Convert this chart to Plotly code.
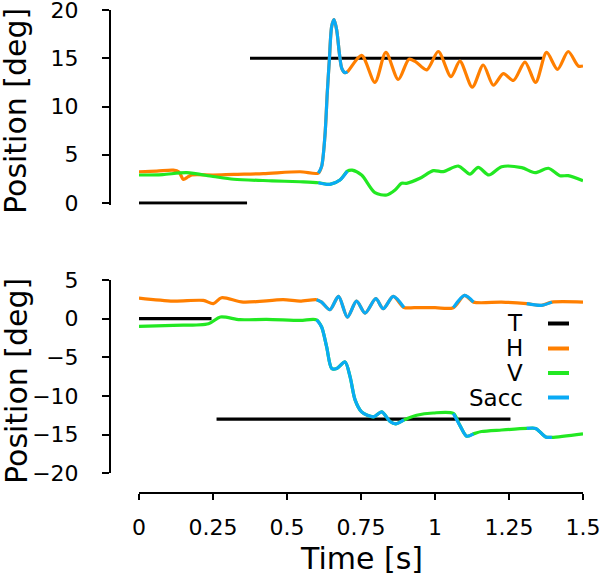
import numpy as np
import plotly.graph_objects as go

# ---------------- data ----------------
# Top panel
top_h_t = [0, 0.06, 0.116, 0.135, 0.15, 0.165, 0.178, 0.25, 0.32, 0.42, 0.544, 0.606, 0.617, 0.628,
           0.636, 0.643, 0.651, 0.659, 0.668, 0.677, 0.685, 0.696, 0.704, 0.752, 0.797, 0.834,
           0.876, 0.912, 0.934, 0.972, 1.011, 1.054, 1.084, 1.126, 1.163, 1.197, 1.231, 1.265,
           1.304, 1.340, 1.377, 1.414, 1.450, 1.484, 1.5]
top_h = [3.24, 3.3, 3.4, 3.2, 2.45, 2.7, 2.9, 2.9, 2.97, 3.05, 3.24, 3.1, 3.8, 6.9,
         11.4, 14.8, 18.3, 19.0, 17.9, 15.5, 13.96, 13.5, 13.6, 15.3, 12.5, 15.6,
         12.8, 14.9, 14.65, 13.8, 15.7, 13.1, 14.7, 12.0, 14.3, 12.2, 13.4, 12.7,
         14.6, 12.5, 15.6, 13.85, 15.7, 14.2, 14.2]

top_v_t = [0, 0.08, 0.161, 0.25, 0.32, 0.45, 0.544, 0.606, 0.645, 0.679, 0.704, 0.72, 0.752,
           0.797, 0.837, 0.865, 0.887, 0.904, 0.949, 0.994, 1.028, 1.079, 1.118, 1.146, 1.182,
           1.225, 1.293, 1.338, 1.383, 1.422, 1.45, 1.5]
top_v = [2.9, 2.95, 3.14, 2.75, 2.46, 2.3, 2.2, 2.1, 1.93, 2.38, 3.3, 3.4, 2.9,
         1.07, 0.83, 1.35, 2.04, 2.04, 2.56, 3.35, 3.25, 3.83, 3.0, 3.7, 2.9,
         3.76, 3.66, 3.14, 3.6, 2.83, 2.83, 2.3]

top_target_t = [0, 0.365, None, 0.375, 1.363]
top_target = [0, 0, None, 15, 15]
top_sacc = [(0.606, 0.704)]

# Bottom panel
bot_h_t = [0, 0.116, 0.217, 0.251, 0.279, 0.352, 0.487, 0.544, 0.60, 0.617, 0.645, 0.674,
           0.704, 0.735, 0.764, 0.80, 0.825, 0.859, 0.895, 0.93, 1.0, 1.062, 1.10, 1.13,
           1.225, 1.31, 1.36, 1.395, 1.5]
bot_h = [2.66, 2.27, 2.36, 1.94, 2.71, 2.14, 2.45, 2.27, 2.45, 2.14, 1.16, 2.88,
         0.21, 2.27, 0.72, 2.58, 1.29, 2.88, 1.45, 1.42, 1.42, 1.42, 3.0, 2.14,
         2.14, 1.94, 1.72, 2.14, 2.14]

bot_v_t = [0, 0.116, 0.235, 0.275, 0.341, 0.431, 0.544, 0.60, 0.617, 0.634, 0.651, 0.668,
           0.696, 0.713, 0.730, 0.752, 0.792, 0.82, 0.848, 0.868, 0.895, 0.938, 0.994,
           1.062, 1.084, 1.107, 1.13, 1.157, 1.225, 1.31, 1.34, 1.374, 1.395, 1.5]
bot_v = [-1.0, -0.86, -0.65, 0.21, -0.13, -0.09, -0.22, -0.15, -1.08, -3.66, -6.45, -6.45,
         -5.6, -7.5, -10.5, -12.05, -12.7, -12.05, -13.3, -13.6, -13.1, -12.5, -12.2,
         -12.26, -13.8, -15.2, -14.9, -14.6, -14.4, -14.2, -14.2, -15.3, -15.35, -14.9]

bot_target_t = [0, 0.245, None, 0.262, 1.255]
bot_target = [0, 0, None, -13, -13]
bot_sacc = [(0.60, 0.895), (1.062, 1.13), (1.31, 1.395)]

x_tickvals = [0, 0.25, 0.5, 0.75, 1, 1.25, 1.5]
x_ticktext = ["0", "0.25", "0.5", "0.75", "1", "1.25", "1.5"]
top_yticks = [0, 5, 10, 15, 20]
bot_yticks = [-20, -15, -10, -5, 0, 5]

legend_names = ["T", "H", "V", "Sacc"]

# ---------------- style ----------------
C_T, C_H, C_V, C_S = "#000000", "#FF7F00", "#22E822", "#0AAAF5"
FONT = "DejaVu Sans"
LW = 3.2
W, H = 600, 575

fig = go.Figure()


def sacc_parts(t, v, intervals):
    t = np.array(t, dtype=float)
    v = np.array(v, dtype=float)
    xs, ys = [], []
    for a, b in intervals:
        m = (t >= a - 1e-9) & (t <= b + 1e-9)
        xs += list(t[m]) + [None]
        ys += list(v[m]) + [None]
    return xs, ys


def add_panel(xa, ya, tt, tv, ht, hv, vt, vv, sacc):
    fig.add_trace(go.Scatter(x=tt, y=tv, mode="lines", line=dict(color=C_T, width=LW),
                             xaxis=xa, yaxis=ya, showlegend=False))
    fig.add_trace(go.Scatter(x=ht, y=hv, mode="lines",
                             line=dict(color=C_H, width=LW, shape="spline", smoothing=0.8),
                             xaxis=xa, yaxis=ya, showlegend=False))
    fig.add_trace(go.Scatter(x=vt, y=vv, mode="lines",
                             line=dict(color=C_V, width=LW, shape="spline", smoothing=0.8),
                             xaxis=xa, yaxis=ya, showlegend=False))
    for t, v in ((ht, hv), (vt, vv)):
        xs, ys = sacc_parts(t, v, sacc)
        fig.add_trace(go.Scatter(x=xs, y=ys, mode="lines",
                                 line=dict(color=C_S, width=LW, shape="spline", smoothing=0.8),
                                 xaxis=xa, yaxis=ya, showlegend=False, connectgaps=False))


add_panel("x2", "y2", top_target_t, top_target, top_h_t, top_h, top_v_t, top_v, top_sacc)
add_panel("x", "y", bot_target_t, bot_target, bot_h_t, bot_h, bot_v_t, bot_v, bot_sacc)

x_dom = [139 / W, 583 / W]
yax_pos = 110 / W
axis_common = dict(showgrid=False, zeroline=False, showline=True, linecolor="black",
                   linewidth=2, ticks="outside", tickwidth=2, tickcolor="black",
                   automargin=False, ticklabeloverflow="allow",
                   tickfont=dict(family=FONT, size=22, color="black"))

# top panel: tiny extension below 0 so the target line at 0 is not clipped
top_px_per_unit = (203 - 10) / 20.0
top_lo = -0.18

fig.update_layout(
    width=W, height=H, margin=dict(l=0, r=0, t=0, b=0, autoexpand=False),
    paper_bgcolor="white", plot_bgcolor="white", showlegend=False,
    font=dict(family=FONT, color="black"),
    xaxis=dict(domain=x_dom, range=[0, 1.5], anchor="free", position=(H - 493) / H,
               tickvals=x_tickvals, ticktext=x_ticktext, ticklen=6,
               ticklabelstandoff=9, **axis_common),
    yaxis=dict(domain=[(H - 473.3) / H, (H - 280) / H], range=[-20, 5], anchor="free",
               position=yax_pos, tickvals=bot_yticks, ticklen=7,
               ticklabelstandoff=19, **axis_common),
    xaxis2=dict(domain=x_dom, range=[0, 1.5], anchor="y2", visible=False, automargin=False),
    yaxis2=dict(domain=[(H - 203 + top_lo * top_px_per_unit) / H, (H - 10) / H],
                range=[top_lo, 20], anchor="free",
                position=yax_pos, tickvals=top_yticks, ticklen=7,
                ticklabelstandoff=19, **axis_common),
)

# axis titles
for yc in (111, 381):
    fig.add_annotation(text="Position [deg]", xref="paper", yref="paper", x=16 / W,
                       y=(H - yc) / H, textangle=-90, showarrow=False,
                       xanchor="center", yanchor="middle", borderpad=0,
                       font=dict(family=FONT, size=30, color="black"))
fig.add_annotation(text="Time [s]", xref="paper", yref="paper", x=361.5 / W,
                   y=(H - 558) / H, showarrow=False,
                   xanchor="center", yanchor="middle", borderpad=0,
                   font=dict(family=FONT, size=30, color="black"))

# legend (text on left, line sample on right)
leg_colors = [C_T, C_H, C_V, C_S]
leg_y = [323.5, 348.5, 373, 397.5]
for name, col, yy in zip(legend_names, leg_colors, leg_y):
    fig.add_annotation(text=name, xref="paper", yref="paper", x=525 / W, y=(H - yy) / H,
                       xanchor="right", yanchor="middle", showarrow=False, height=22,
                       font=dict(family=FONT, size=23, color="black"))
    fig.add_shape(type="line", xref="paper", yref="paper", x0=548 / W, x1=569 / W,
                  y0=(H - yy) / H, y1=(H - yy) / H, line=dict(color=col, width=4))

fig.write_html("out.html", config={"displayModeBar": False},
               post_script="document.body.style.margin='0px';")
